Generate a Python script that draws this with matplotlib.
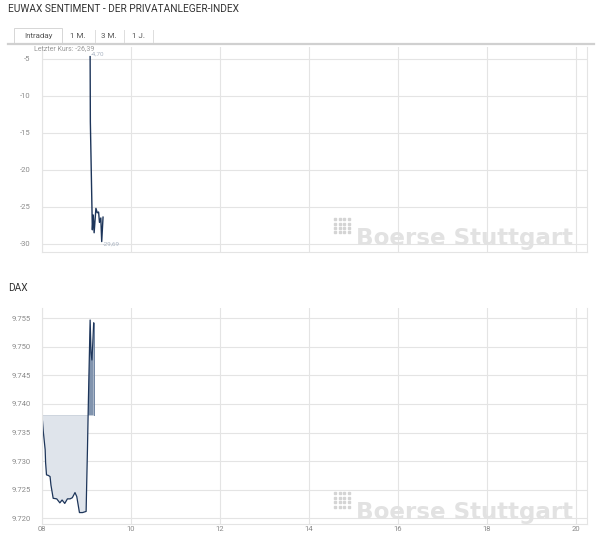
import numpy as np
import matplotlib
matplotlib.use('Agg')
import matplotlib.pyplot as plt
from matplotlib.lines import Line2D
from matplotlib.patches import Rectangle

# EUWAX sentiment (intraday, hours)
euwax_t = [9.09, 9.095, 9.14, 9.16, 9.18, 9.22, 9.25, 9.28, 9.30, 9.33, 9.35, 9.38]
euwax_v = [-4.70, -13.5, -28.1, -26.1, -28.5, -25.2, -25.8, -25.7, -27.1, -26.5, -29.69, -26.39]
euwax_ticks = [-5, -10, -15, -20, -25, -30]

# DAX (intraday, hours)
dax_t = [8.02, 8.04, 8.08, 8.09, 8.11, 8.15, 8.19, 8.21, 8.26, 8.34, 8.41, 8.46, 8.52,
         8.58, 8.64, 8.69, 8.75, 8.79, 8.85, 8.92, 9.0, 9.01, 9.03, 9.05, 9.06, 9.09,
         9.11, 9.13, 9.15, 9.17]
dax_v = [9737.0, 9735.0, 9732.0, 9729.7, 9727.6, 9727.5, 9727.3, 9725.8, 9723.5, 9723.4,
         9722.7, 9723.2, 9722.6, 9723.4, 9723.4, 9723.6, 9724.5, 9723.8, 9721.0, 9721.0,
         9721.2, 9725.0, 9732.0, 9740.2, 9743.9, 9754.7, 9749.0, 9747.7, 9750.7, 9754.2]
dax_base = 9738.0
dax_ticks = [9720, 9725, 9730, 9735, 9740, 9745, 9750, 9755]

hour_ticks = [8, 10, 12, 14, 16, 18, 20]
hour_labels = ['08', '10', '12', '14', '16', '18', '20']

LINE = '#1d355a'
GRID = '#e4e4e4'
TXT = '#8a8a8a'
WM = '#e2e2e2'

plt.rcParams['font.family'] = ['Roboto', 'DejaVu Sans']

fig = plt.figure(figsize=(6.08, 5.36), dpi=100)
W, H = 608.0, 536.0

def fx(px):
    return px / W

def fy(py):
    return 1 - py / H

def style_axes(ax):
    ax.set_xlim(8, 20.25)
    ax.set_xticks(hour_ticks)
    ax.grid(True, color=GRID, linewidth=0.8)
    ax.set_axisbelow(True)
    ax.spines['top'].set_visible(False)
    for s in ['left', 'right', 'bottom']:
        ax.spines[s].set_color(GRID)
        ax.spines[s].set_linewidth(0.8)
    ax.tick_params(length=0, colors=TXT, labelsize=5.5)
    ax.tick_params(axis='y', pad=8)
    ax.tick_params(axis='x', pad=1.5)

def watermark(py_base):
    fig.text(fx(356), fy(py_base), 'Boerse Stuttgart', fontsize=16.6, fontweight='bold',
             color=WM, family='DejaVu Sans', va='baseline', ha='left')
    for i in range(4):
        for j in range(4):
            fig.add_artist(Line2D([fx(335 + i * 4.5)], [fy(py_base - 26 + j * 4.5)],
                                  marker='s', markersize=1.7, color='#d4d4d4',
                                  linestyle='none'))

# title and tabs
fig.text(fx(8), fy(9), 'EUWAX SENTIMENT - DER PRIVATANLEGER-INDEX', fontsize=7.3,
         color='#333333', va='center', ha='left')
fig.add_artist(Line2D([fx(8), fx(594)], [fy(44), fy(44)], color='#d0d0d0', linewidth=1.6))
fig.add_artist(Rectangle((fx(14), fy(44)), fx(48), 16 / H, facecolor='white',
                         edgecolor='#d6d6d6', linewidth=0.7))
tabs = [('Intraday', 38), ('1 M.', 78), ('3 M.', 109), ('1 J.', 138)]
for name, px in tabs:
    fig.text(fx(px), fy(36), name, fontsize=5.8, color='#555555', ha='center', va='center')
for px in [95, 124, 153]:
    fig.add_artist(Line2D([fx(px), fx(px)], [fy(30), fy(42)], color='#dddddd', linewidth=0.7))

# top chart
ax1 = fig.add_axes([fx(41.6), fy(252), fx(587) - fx(41.6), (252 - 47) / H])
style_axes(ax1)
ax1.set_ylim(-31.1, -3.4)
ax1.set_yticks(euwax_ticks)
ax1.set_yticklabels([str(v) for v in euwax_ticks])
ax1.set_xticklabels([])
ax1.plot(euwax_t, euwax_v, color=LINE, linewidth=1.0)
ax1.text(euwax_t[0] + 0.02, -4.70, '-4,70', fontsize=4.5, color='#aab4c2', ha='left', va='bottom')
ax1.text(euwax_t[-2] + 0.02, -29.69, '-29,69', fontsize=4.5, color='#aab4c2', ha='left', va='top')
fig.text(fx(34), fy(48.5), 'Letzter Kurs: -26,39', fontsize=5, color='#999999',
         ha='left', va='center')
watermark(245)

# DAX chart
fig.text(fx(8), fy(288), 'DAX', fontsize=7.3, color='#333333', ha='left', va='center')
ax2 = fig.add_axes([fx(41.6), fy(524), fx(587) - fx(41.6), (524 - 308) / H])
style_axes(ax2)
ax2.set_ylim(9719.0, 9756.8)
ax2.set_yticks(dax_ticks)
ax2.set_yticklabels(['9.%03d' % (v - 9000) for v in dax_ticks])
ax2.set_xticklabels(hour_labels)
t = np.array(dax_t)
v = np.array(dax_v)
ax2.fill_between(t, v, dax_base, where=v <= dax_base, interpolate=True,
                 facecolor='#dfe4eb', edgecolor='none')
ax2.fill_between(t, v, dax_base, where=v >= dax_base, interpolate=True,
                 facecolor='#8194ae', edgecolor='none')
ax2.plot([t[0], t[0]], [dax_base, v[0]], color='#b9c3d0', linewidth=0.7)
ax2.plot([t[0], t[-1]], [dax_base, dax_base], color='#c9d0da', linewidth=0.6)
ax2.plot([t[-1], t[-1]], [dax_base, v[-1]], color='#6f84a2', linewidth=0.7)
ax2.plot(t, v, color=LINE, linewidth=0.9)
watermark(519)

fig.savefig('out.png', dpi=100, facecolor='white')
